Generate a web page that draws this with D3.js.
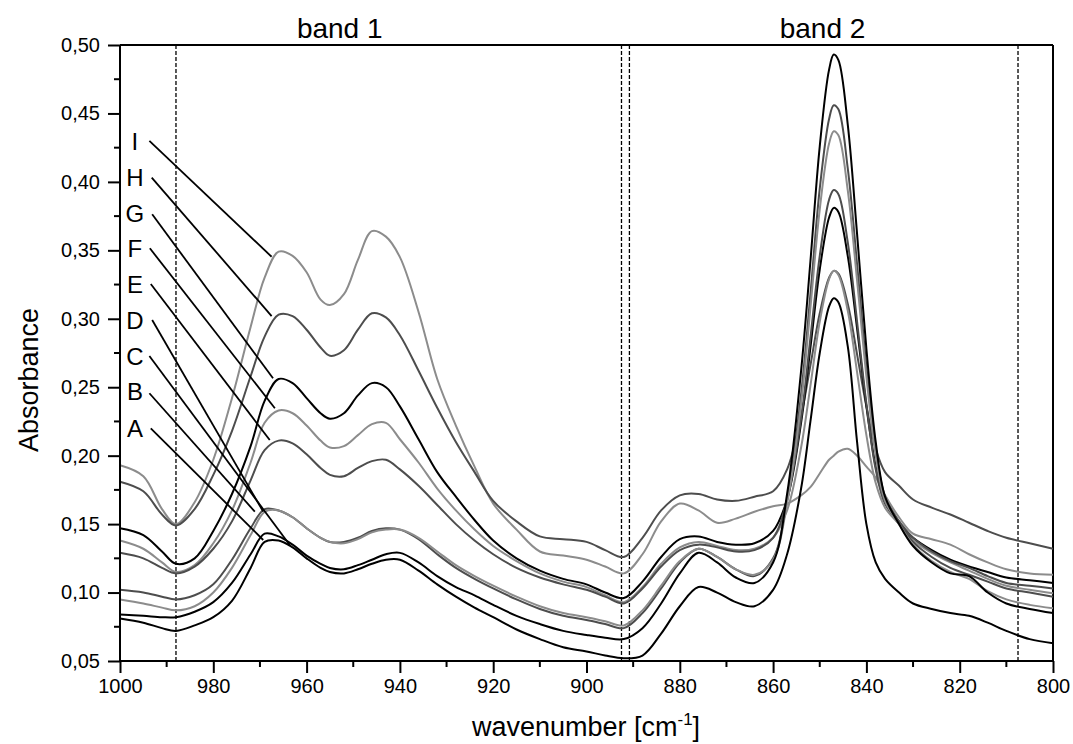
<!DOCTYPE html>
<html><head><meta charset="utf-8">
<script src="https://cdn.jsdelivr.net/npm/d3@7"></script>
<style>
body{margin:0;background:#fff}
svg{display:block}
text{font-family:"Liberation Sans",Arial,sans-serif;fill:#000}
</style>
</head><body>
<svg id="chart" width="1073" height="744"></svg>
<script>
// ---- data ----
const wavenumbers = [1000,995,991,988,984,980,976,972,969,966,963,960,957,955,952,949,946,943,940,936,932,928,924,920,915,910,905,900,896,892,888,884,880,876,872,868,864,860,857,854,852,850,848,847,846,844,842,840,838,836,833,830,826,822,818,814,810,805,800];

const seriesI = [.193,.185,.161,.150,.166,.197,.242,.294,.330,.349,.346,.334,.314,.310,.318,.343,.364,.360,.345,.305,.256,.222,.192,.165,.146,.130,.127,.124,.119,.114,.128,.152,.165,.160,.151,.154,.159,.163,.165,.171,.177,.187,.197,.200,.203,.205,.200,.192,.184,.171,.155,.143,.139,.135,.128,.122,.117,.114,.113];
const seriesH = [.181,.174,.157,.149,.161,.186,.218,.258,.287,.303,.302,.292,.279,.273,.277,.292,.304,.301,.288,.262,.235,.210,.188,.167,.152,.141,.139,.137,.131,.126,.140,.160,.171,.172,.168,.167,.170,.174,.190,.229,.266,.304,.330,.335,.333,.311,.274,.236,.205,.188,.178,.168,.162,.157,.151,.145,.140,.136,.132];
const seriesG = [.147,.142,.130,.121,.125,.145,.172,.207,.240,.256,.253,.242,.231,.227,.231,.244,.253,.250,.236,.212,.188,.170,.153,.138,.125,.116,.110,.106,.100,.096,.108,.126,.139,.141,.137,.135,.136,.145,.168,.224,.279,.336,.374,.381,.378,.346,.293,.236,.192,.166,.150,.140,.131,.124,.119,.115,.111,.109,.107];
const seriesF = [.138,.132,.122,.115,.120,.136,.160,.195,.224,.233,.231,.222,.211,.206,.207,.215,.223,.224,.212,.195,.176,.160,.146,.134,.123,.114,.108,.104,.098,.093,.104,.121,.133,.137,.134,.131,.132,.140,.160,.206,.251,.298,.329,.335,.332,.306,.261,.215,.180,.162,.150,.138,.129,.122,.116,.110,.105,.102,.0995];
const seriesE = [.129,.125,.118,.114,.119,.132,.152,.182,.204,.211,.209,.201,.191,.186,.185,.191,.196,.197,.190,.178,.164,.150,.138,.128,.118,.111,.106,.102,.097,.092,.103,.119,.131,.135,.133,.130,.131,.140,.168,.227,.286,.346,.387,.394,.391,.356,.298,.238,.190,.165,.152,.140,.130,.123,.118,.112,.107,.105,.103];
const seriesD = [.102,.100,.097,.095,.098,.106,.124,.147,.161,.160,.155,.147,.140,.137,.137,.140,.145,.147,.146,.139,.128,.118,.110,.103,.095,.088,.083,.080,.077,.074,.085,.103,.122,.132,.126,.117,.112,.125,.168,.245,.318,.395,.446,.456,.453,.410,.340,.265,.205,.170,.152,.137,.126,.118,.113,.108,.103,.100,.097];
const seriesC = [.095,.092,.089,.087,.090,.100,.118,.142,.159,.160,.155,.147,.140,.137,.136,.139,.144,.146,.146,.140,.130,.120,.112,.105,.097,.090,.085,.082,.079,.076,.087,.105,.123,.132,.126,.117,.113,.124,.165,.238,.308,.380,.428,.437,.434,.394,.328,.258,.200,.167,.150,.135,.123,.115,.110,.101,.095,.091,.0885];
const seriesB = [.084,.083,.082,.082,.086,.093,.107,.128,.143,.141,.135,.127,.121,.118,.117,.120,.124,.128,.129,.122,.112,.104,.098,.091,.083,.077,.072,.069,.067,.066,.074,.092,.114,.129,.122,.111,.107,.122,.172,.262,.342,.426,.482,.493,.489,.442,.362,.278,.210,.170,.150,.134,.122,.114,.112,.100,.092,.088,.085];
const seriesA = [.081,.078,.074,.072,.076,.082,.094,.118,.137,.138,.133,.125,.118,.115,.114,.117,.121,.124,.124,.116,.106,.097,.089,.082,.073,.066,.060,.057,.054,.052,.054,.070,.090,.104,.100,.093,.090,.102,.128,.176,.225,.275,.309,.315,.312,.280,.210,.150,.122,.110,.100,.092,.088,.085,.083,.078,.072,.066,.063];

const seriesNames  = ["I","H","G","F","E","D","C","B","A"];
const seriesValues = [seriesI,seriesH,seriesG,seriesF,seriesE,seriesD,seriesC,seriesB,seriesA];
const seriesColors = ["#8c8c8c","#4d4d4d","#000000","#8c8c8c","#4d4d4d","#4d4d4d","#8c8c8c","#000000","#000000"];

// label anchor (wavenumber, absorbance), leader start and end
const labelWn  = 996.8;
const labelAbs = [.4293,.4033,.3770,.3515,.3253,.2991,.2721,.2468,.2200];
const leaderStartWn  = [993.7,993.2,993.1,993.6,993.4,993.1,993.7,993.7,993.4];
const leaderStartAbs = [.4299,.4031,.3763,.3515,.3254,.2991,.2728,.2456,.2200];
const leaderEndWn    = [967.5,967.5,967.2,966.8,967.9,969.3,963.6,971.1,969.3];
const leaderEndAbs   = [.3453,.3020,.2565,.2346,.2114,.1591,.1347,.1591,.1384];

const markerLines = [988, 892.5, 890.8, 807.5];
const bandNames = ["band 1","band 2"];
const bandWn = [952.9, 849.4];

const xTicks = [1000,980,960,940,920,900,880,860,840,820,800];
const xMinor = [990,970,950,930,910,890,870,850,830,810];
const yTicks = [0.05,0.10,0.15,0.20,0.25,0.30,0.35,0.40,0.45,0.50];
const yMinor = [0.075,0.125,0.175,0.225,0.275,0.325,0.375,0.425,0.475];

// ---- drawing ----
const svg = d3.select("#chart");
const L = 120, R = 1053, T = 45, B = 661;
const x = d3.scaleLinear().domain([1000,800]).range([L,R]);
const y = d3.scaleLinear().domain([0.05,0.50]).range([B,T]);
const fmt = d => d3.format(".2f")(d).replace(".", ",");

// frame top/right
svg.append("line").attr("x1",L).attr("x2",R).attr("y1",T).attr("y2",T).attr("stroke","#000").attr("stroke-width",2);
svg.append("line").attr("x1",R).attr("x2",R).attr("y1",T).attr("y2",B).attr("stroke","#000").attr("stroke-width",2);

// marker dashed lines
svg.append("g").selectAll("line").data(markerLines).join("line")
  .attr("x1",d=>x(d)).attr("x2",d=>x(d)).attr("y1",T).attr("y2",B)
  .attr("stroke","#000").attr("stroke-width",1.3).attr("stroke-dasharray","4,2");

// spectra
const line = d3.line().x((d,i)=>x(wavenumbers[i])).y(d=>y(d)).curve(d3.curveCatmullRom.alpha(0.5));
svg.append("g").selectAll("path").data(seriesValues).join("path")
  .attr("d",d=>line(d)).attr("fill","none")
  .attr("stroke",(d,i)=>seriesColors[i]).attr("stroke-width",2);

// leader lines and labels
const lg = svg.append("g");
seriesNames.forEach((n,i)=>{
  lg.append("line")
    .attr("x1",x(leaderStartWn[i])).attr("y1",y(leaderStartAbs[i]))
    .attr("x2",x(leaderEndWn[i])).attr("y2",y(leaderEndAbs[i]))
    .attr("stroke","#000").attr("stroke-width",1.8);
  lg.append("text").attr("x",x(labelWn)).attr("y",y(labelAbs[i]))
    .attr("text-anchor","middle").attr("dominant-baseline","central")
    .attr("font-size",24).text(n);
});

// band labels
svg.append("g").selectAll("text").data(bandNames).join("text")
  .attr("x",(d,i)=>x(bandWn[i])).attr("y",38)
  .attr("text-anchor","middle").attr("font-size",28).text(d=>d);

// x axis
const xAxis = d3.axisBottom(x).tickValues(xTicks).tickSize(12).tickPadding(6).tickFormat(d3.format("d"));
const gx = svg.append("g").attr("transform",`translate(0,${B})`).call(xAxis);
gx.select(".domain").attr("stroke-width",2).attr("d",`M${L},0H${R}`);
gx.selectAll(".tick line").attr("stroke-width",2);
gx.selectAll("text").attr("font-size",20).attr("font-family","Liberation Sans, Arial, sans-serif");
svg.append("g").attr("transform",`translate(0,${B})`).selectAll("line").data(xMinor).join("line")
  .attr("x1",d=>x(d)).attr("x2",d=>x(d)).attr("y1",0).attr("y2",6).attr("stroke","#000").attr("stroke-width",2);

// y axis
const yAxis = d3.axisLeft(y).tickValues(yTicks).tickSize(12).tickPadding(8).tickFormat(fmt);
const gy = svg.append("g").attr("transform",`translate(${L},0)`).call(yAxis);
gy.select(".domain").attr("stroke-width",2).attr("d",`M0,${B}V${T}`);
gy.selectAll(".tick line").attr("stroke-width",2);
gy.selectAll("text").attr("font-size",20).attr("font-family","Liberation Sans, Arial, sans-serif");
svg.append("g").attr("transform",`translate(${L},0)`).selectAll("line").data(yMinor).join("line")
  .attr("x1",-6).attr("x2",0).attr("y1",d=>y(d)).attr("y2",d=>y(d)).attr("stroke","#000").attr("stroke-width",2);

// axis titles
svg.append("text").attr("x",586).attr("y",736).attr("text-anchor","middle").attr("font-size",27)
  .html('wavenumber [cm<tspan dy="-11" font-size="17">-1</tspan><tspan dy="11">]</tspan>');
svg.append("text").attr("transform","translate(38,380) rotate(-90)").attr("text-anchor","middle")
  .attr("font-size",27).text("Absorbance");
</script>
</body></html>
